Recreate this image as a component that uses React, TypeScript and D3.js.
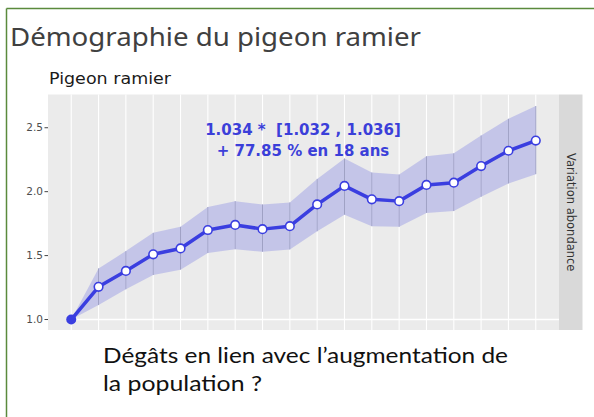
import React from 'react';
import { scaleLinear, line, area } from 'd3';

// années de suivi (indice) et indice d'abondance
const annees = [0, 1, 2, 3, 4, 5, 6, 7, 8, 9, 10, 11, 12, 13, 14, 15, 16, 17];
const abondance = [1.0, 1.256, 1.38, 1.51, 1.556, 1.70, 1.74, 1.707, 1.73, 1.90, 2.045, 1.94, 1.926, 2.053, 2.07, 2.20, 2.32, 2.40];
const icHaut = [1.0, 1.40, 1.535, 1.678, 1.725, 1.88, 1.926, 1.90, 1.916, 2.10, 2.26, 2.15, 2.134, 2.277, 2.30, 2.44, 2.57, 2.67];
const icBas = [1.0, 1.113, 1.236, 1.348, 1.39, 1.52, 1.55, 1.53, 1.548, 1.69, 1.82, 1.73, 1.725, 1.834, 1.848, 1.96, 2.064, 2.137];
const yTicks = [1.0, 1.5, 2.0, 2.5];

const titre = 'Démographie du pigeon ramier';
const sousTitre = 'Pigeon ramier';
const strip = 'Variation abondance';
const annotation = ['1.034 *  [1.032 , 1.036]', '+ 77.85 % en 18 ans'];
const question = ['Dégâts en lien avec l\u2019augmentation de', 'la population ?'];
const questionLargeur = [405, 159];

const BLEU = '#3a3ee0';

export default function App() {
  const panel = { left: 48, right: 559, top: 94.5, bottom: 330 };
  const stripW = 23.5;

  const x = scaleLinear().domain([-0.85, 17.85]).range([panel.left, panel.right]);
  const y = scaleLinear().domain([0.918, 2.76]).range([panel.bottom, panel.top]);

  const data = annees.map((a, i) => ({ a, v: abondance[i], hi: icHaut[i], lo: icBas[i] }));

  const ligne = line<any>().x(d => x(d.a)).y(d => y(d.v));
  const ruban = area<any>().x(d => x(d.a)).y0(d => y(d.lo)).y1(d => y(d.hi));

  return (
    <svg width={594} height={417} style={{ position: 'absolute', left: 0, top: 0 }} fontFamily="DejaVu Sans">
      <rect width={594} height={417} fill="#fff" />
      {/* cadre vert */}
      <line x1={6.5} x2={594} y1={8.5} y2={8.5} stroke="#5a8a3c" strokeWidth={1.5} />
      <line x1={6.5} x2={6.5} y1={8.5} y2={417} stroke="#5a8a3c" strokeWidth={1.5} />

      <text x={10} y={46} fontSize={26} fill="#404040" fontFamily="Noto Sans" textLength={411} lengthAdjust="spacingAndGlyphs">{titre}</text>
      <text x={49} y={84} fontSize={16.5} fill="#1a1a1a" textLength={122} lengthAdjust="spacingAndGlyphs">{sousTitre}</text>

      <rect x={panel.left} y={panel.top} width={panel.right - panel.left} height={panel.bottom - panel.top} fill="#ebebeb" />
      {annees.map(a => (
        <line key={a} x1={x(a)} x2={x(a)} y1={panel.top} y2={panel.bottom} stroke="#fff" strokeWidth={1.1} />
      ))}
      <line x1={x(0)} x2={panel.right} y1={y(1)} y2={y(1)} stroke="#fff" strokeWidth={1.6} />

      <path d={ruban(data) || ''} fill={BLEU} fillOpacity={0.22} />
      {data.slice(1).map(d => (
        <line key={d.a} x1={x(d.a)} x2={x(d.a)} y1={y(d.lo)} y2={y(d.hi)} stroke="#9fa1c4" strokeWidth={1} />
      ))}
      <path d={ligne(data) || ''} fill="none" stroke={BLEU} strokeWidth={3.5} strokeLinejoin="round" />
      {data.map((d, i) => (
        i === 0
          ? <circle key={d.a} cx={x(d.a)} cy={y(d.v)} r={5} fill={BLEU} />
          : <circle key={d.a} cx={x(d.a)} cy={y(d.v)} r={4.3} fill="#fff" stroke={BLEU} strokeWidth={1.6} />
      ))}

      {yTicks.map(t => (
        <g key={t}>
          <line x1={panel.left - 3.5} x2={panel.left} y1={y(t)} y2={y(t)} stroke="#444" strokeWidth={1} />
          <text x={panel.left - 5} y={y(t)} dy="0.35em" textAnchor="end" fontSize={10.5} fill="#4d4d4d">{t.toFixed(1)}</text>
        </g>
      ))}

      <rect x={panel.right} y={panel.top} width={stripW} height={panel.bottom - panel.top} fill="#d9d9d9" />
      <text transform={`translate(${panel.right + stripW / 2},${(panel.top + panel.bottom) / 2}) rotate(90)`}
        textAnchor="middle" dy="0.35em" fontSize={11.5} fill="#333">{strip}</text>

      {annotation.map((t, i) => (
        <text key={i} x={303} y={135 + i * 21} textAnchor="middle" fontSize={15} fontWeight="bold" fill="#3b3fd9"
          style={{ whiteSpace: 'pre' }}>{t}</text>
      ))}

      {question.map((t, i) => (
        <text key={i} x={103} y={363 + i * 28} fontSize={22} fill="#111" fontFamily="Lato"
          textLength={questionLargeur[i]} lengthAdjust="spacingAndGlyphs">{t}</text>
      ))}
    </svg>
  );
}
